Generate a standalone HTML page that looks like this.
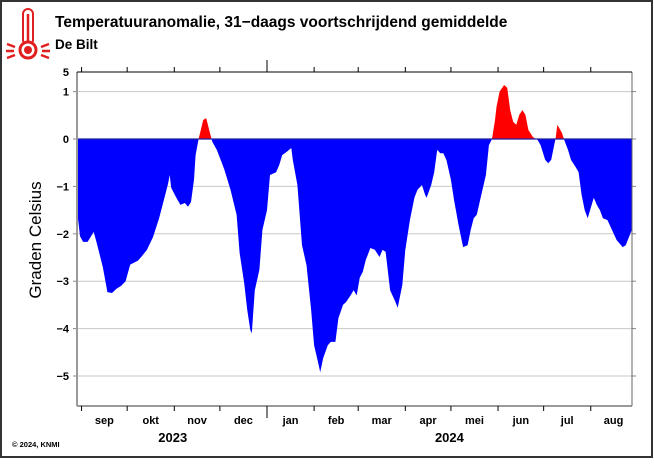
<!DOCTYPE html>
<html><head><meta charset="utf-8"><style>
body{margin:0;background:#fff;font-family:"Liberation Sans",sans-serif}
svg text{font-family:"Liberation Sans",sans-serif}
</style></head><body>
<svg id="chart" width="654" height="459" viewBox="0 0 654 459" xmlns="http://www.w3.org/2000/svg">
<rect x="1" y="1" width="651" height="456" fill="#fff" stroke="#333" stroke-width="2"/>
<g stroke="#e02020" fill="none" stroke-width="2.5">
<rect x="23" y="9" width="10" height="36" rx="5" stroke-width="2"/>
<line x1="28" y1="14" x2="28" y2="44" stroke-width="2.5"/>
<circle cx="28" cy="50" r="8" fill="#fff" stroke-width="3"/>
<circle cx="28" cy="50" r="4" fill="#e02020" stroke="none"/>
<line x1="7" y1="44" x2="15" y2="47"/><line x1="6" y1="51" x2="14" y2="51"/><line x1="7" y1="58" x2="15" y2="55"/>
<line x1="49" y1="44" x2="41" y2="47"/><line x1="50" y1="51" x2="42" y2="51"/><line x1="49" y1="58" x2="41" y2="55"/>
</g>
<text x="55" y="27" font-size="15.5" font-weight="bold">Temperatuuranomalie, 31−daags voortschrijdend gemiddelde</text>
<text x="55" y="49" font-size="13.5" font-weight="bold">De Bilt</text>
<text transform="translate(41,240) rotate(-90)" text-anchor="middle" font-size="17">Graden Celsius</text>
<text x="12" y="447" font-size="7.5" font-weight="bold">© 2024, KNMI</text>
<g id="grid"></g>
<g id="area"></g>
<g id="axes"></g>
</svg>
<script>
const days=[0,2,4,7,11,13,17,20,23,26,29,32,35,40,42,46,50,54,58,60,61,62,65,68,71,73,75,77,78,80,83,85,87,89,92,95,97,101,105,107,110,112,114,115,117,120,122,125,127,131,133,135,138,141,142,145,148,151,154,156,159,160,162,165,167,170,172,175,177,180,182,184,186,188,190,193,196,199,201,203,206,209,211,214,216,219,222,224,227,229,230,233,235,237,239,241,243,246,248,251,254,257,259,261,263,266,269,271,273,275,276,278,281,283,285,287,289,291,293,295,297,300,303,305,308,310,312,315,316,319,321,323,325,328,330,332,334,336,338,340,342,344,346,349,352,355,359,361,365];
const values=[-1.5,-2.05,-2.17,-2.17,-1.96,-2.2,-2.7,-3.23,-3.25,-3.16,-3.1,-3.0,-2.65,-2.57,-2.5,-2.34,-2.07,-1.67,-1.18,-0.93,-0.76,-1.03,-1.22,-1.39,-1.35,-1.43,-1.33,-0.86,-0.34,0,0.4,0.44,0.19,-0.06,-0.23,-0.48,-0.65,-1.07,-1.6,-2.4,-3.04,-3.6,-4.03,-4.1,-3.19,-2.76,-1.92,-1.5,-0.76,-0.7,-0.55,-0.34,-0.27,-0.19,-0.44,-0.97,-2.24,-2.66,-3.6,-4.35,-4.77,-4.92,-4.62,-4.35,-4.28,-4.28,-3.78,-3.5,-3.44,-3.3,-3.19,-3.3,-2.93,-2.8,-2.55,-2.3,-2.34,-2.49,-2.34,-2.38,-3.19,-3.4,-3.56,-3.08,-2.34,-1.71,-1.24,-1.07,-0.97,-1.18,-1.24,-0.97,-0.7,-0.23,-0.3,-0.3,-0.44,-0.86,-1.28,-1.81,-2.28,-2.24,-1.92,-1.67,-1.6,-1.18,-0.76,-0.13,0,0.4,0.68,1.0,1.14,1.08,0.61,0.36,0.3,0.51,0.61,0.51,0.19,0.04,-0.02,-0.13,-0.44,-0.51,-0.44,0.04,0.3,0.13,-0.06,-0.23,-0.44,-0.59,-0.7,-1.18,-1.5,-1.67,-1.45,-1.24,-1.39,-1.5,-1.67,-1.71,-1.92,-2.13,-2.28,-2.24,-1.92];
const yTicks=[1,0,-1,-2,-3,-4,-5];
const monthLabels=["sep","okt","nov","dec","jan","feb","mar","apr","mei","jun","jul","aug"];
const monthStartDays=[3,33,64,94,125,156,185,216,246,277,307,338,368];
const years=["2023","2024"];
const yearCenterDays=[63,245];
const X0=77,X1=632,Y0=72,Y1=406;
const xs=d=>Math.min(X1,X0+d*1.52);
const ys=v=>139-v*47.4;
const NS="http://www.w3.org/2000/svg";
function mk(tag,attrs,parent){const e=document.createElementNS(NS,tag);for(const k in attrs)e.setAttribute(k,attrs[k]);parent.appendChild(e);return e;}
const grid=document.getElementById('grid'),area=document.getElementById('area'),axes=document.getElementById('axes');
yTicks.forEach(v=>{
 const l=mk('line',{x1:X0,x2:X1,y1:ys(v),y2:ys(v),stroke:'#c8c8c8','stroke-width':1},grid);
 
 
 const t=mk('text',{x:69,y:ys(v)+4,'text-anchor':'end','font-size':11,'font-weight':'bold'},axes);
 t.textContent=(v<0?'−':'')+Math.abs(v);
 
 
 mk('line',{x1:X0-4,x2:X0,y1:ys(v),y2:ys(v),stroke:'#888'},axes);
 mk('line',{x1:X1,x2:X1+4,y1:ys(v),y2:ys(v),stroke:'#888'},axes);
});
const t5=mk('text',{x:69,y:76,'text-anchor':'end','font-size':11,'font-weight':'bold'},axes);t5.textContent='5';


let d='M'+xs(days[0])+','+ys(0);
days.forEach((dd,i)=>{d+=' L'+xs(dd).toFixed(1)+','+ys(values[i]).toFixed(1);});
d+=' L'+xs(days[days.length-1])+','+ys(0)+' Z';
const defs=mk('defs',{},area);
const c1=mk('clipPath',{id:'below'},defs);mk('rect',{x:X0,y:ys(0),width:X1-X0,height:Y1-ys(0)},c1);
const c2=mk('clipPath',{id:'above'},defs);mk('rect',{x:X0,y:Y0,width:X1-X0,height:ys(0)-Y0},c2);
const pb=mk('path',{d:d,fill:'#0000ff','clip-path':'url(#below)'},area);


const pr=mk('path',{d:d,fill:'#ff0000','clip-path':'url(#above)'},area);


mk('line',{x1:X0,x2:X1,y1:ys(0),y2:ys(0),stroke:'#2020a0','stroke-width':1.2},area);
mk('line',{x1:X0,x2:X0,y1:Y0,y2:Y1,stroke:'#999','stroke-width':2},axes);
mk('line',{x1:X0,x2:X1,y1:Y1,y2:Y1,stroke:'#999','stroke-width':2},axes);
mk('line',{x1:X1,x2:X1,y1:Y0,y2:Y1,stroke:'#666','stroke-width':1},axes);
mk('line',{x1:X0,x2:X1,y1:Y0,y2:Y0,stroke:'#000','stroke-width':1},axes);
monthStartDays.forEach((md,i)=>{
 const x=X0+md*1.52;if(x>X1)return;
 const big=md===125;
 mk('line',{x1:x,x2:x,y1:Y0,y2:Y0-(big?12:5),stroke:'#000'},axes);
 mk('line',{x1:x,x2:x,y1:Y1,y2:Y1+(big?12:5),stroke:'#000'},axes);
 if(i<monthLabels.length){
  const t=mk('text',{x:(x+X0+monthStartDays[i+1]*1.52)/2,y:424,'text-anchor':'middle','font-size':11,'font-weight':'bold'},axes);
  t.textContent=monthLabels[i];
  
  
 }
});
years.forEach((y,i)=>{
 const t=mk('text',{x:xs(yearCenterDays[i]),y:442,'text-anchor':'middle','font-size':13,'font-weight':'bold'},axes);
 t.textContent=y;
 
 
});
</script>
</body></html>
